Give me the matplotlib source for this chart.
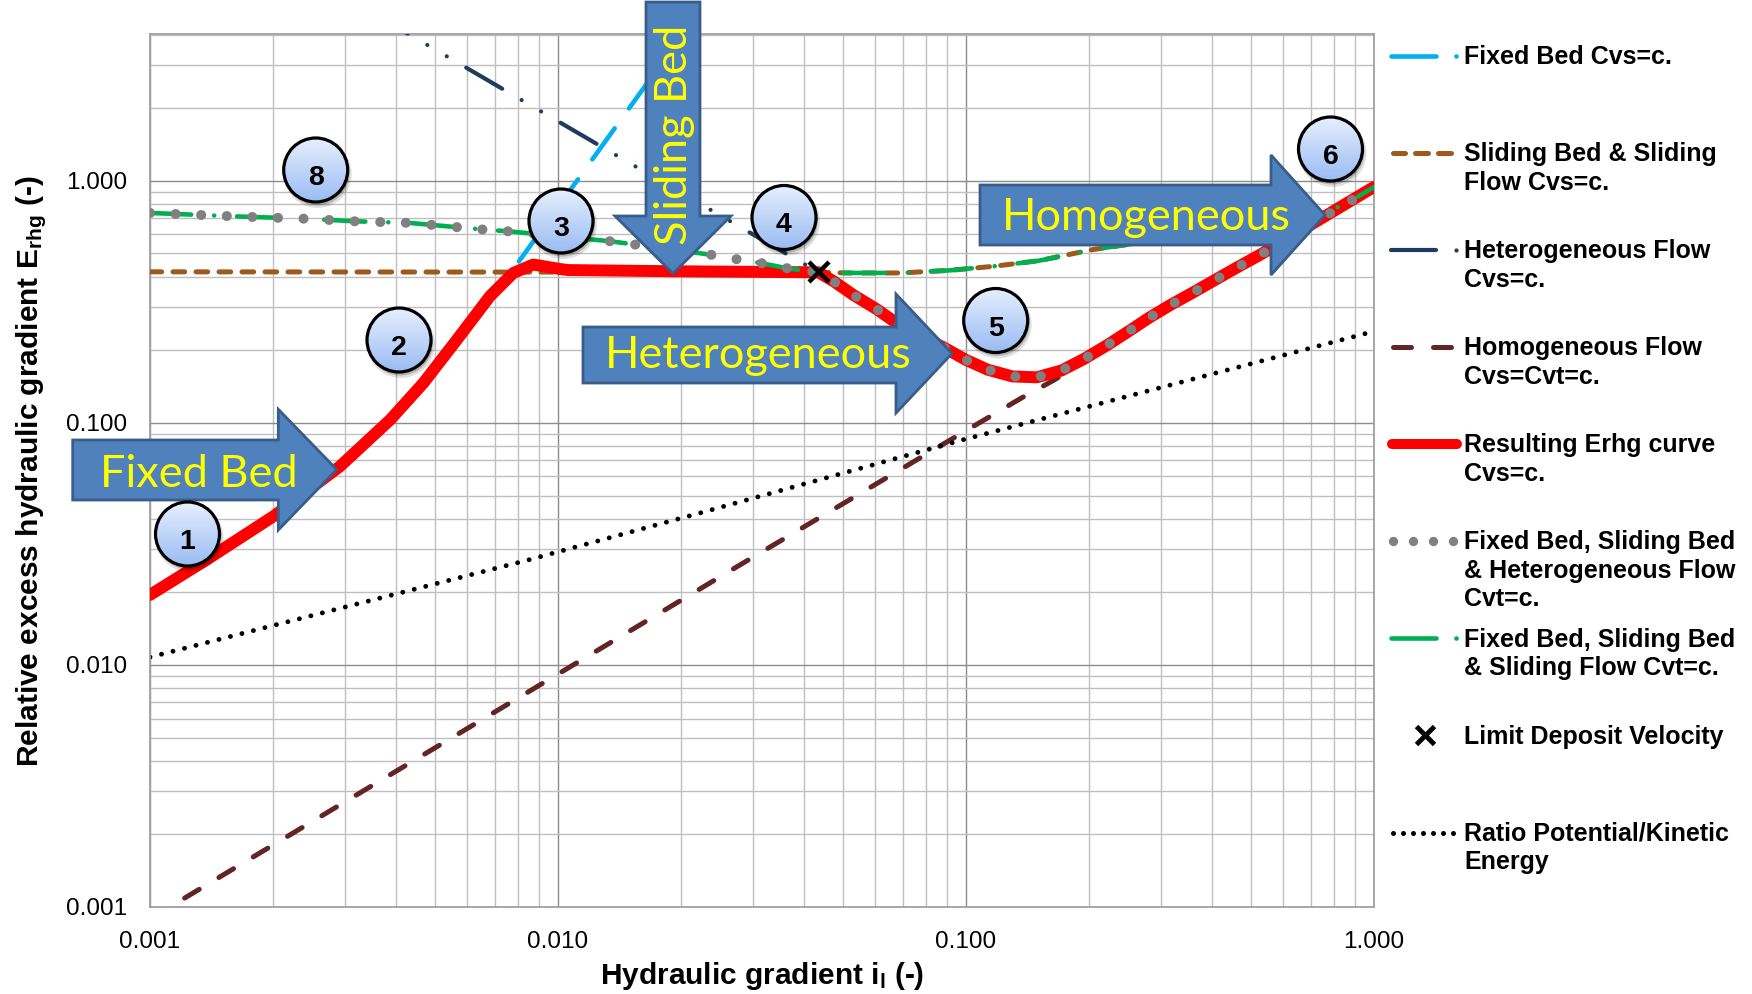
import matplotlib
matplotlib.use('Agg')
import matplotlib.pyplot as plt
import numpy as np
from matplotlib.patches import Polygon, Circle
from matplotlib.lines import Line2D
from matplotlib.ticker import FixedLocator, FuncFormatter, LogLocator, NullFormatter
from matplotlib.colors import LinearSegmentedColormap

W, H = 1752, 994
plt.rcParams['font.family'] = ['Liberation Sans', 'DejaVu Sans']
plt.rcParams['mathtext.fontset'] = 'custom'
plt.rcParams['mathtext.rm'] = 'Liberation Sans'
plt.rcParams['mathtext.bf'] = 'Liberation Sans:bold'
plt.rcParams['mathtext.it'] = 'Liberation Sans:italic'

# ---------------- data ----------------
# Resulting Erhg curve Cvs=c.
res_x = [0.001, 0.001377, 0.002004, 0.00292, 0.00388, 0.00468, 0.00565, 0.00681, 0.00777,
         0.0087, 0.0101, 0.0106, 0.02, 0.0435, 0.0474, 0.0531, 0.0603, 0.0667, 0.0902,
         0.0998, 0.113, 0.130, 0.149, 0.1715, 0.1945, 0.2207, 0.2503, 0.2804, 0.318,
         0.3606, 0.409, 0.464, 0.5265, 0.758, 0.86, 0.975, 1.0]
res_y = [0.01945, 0.0272, 0.041, 0.066, 0.1029, 0.146, 0.22, 0.333, 0.4155,
         0.45, 0.4315, 0.427, 0.422, 0.418, 0.3836, 0.336, 0.295, 0.262, 0.2003,
         0.182, 0.1656, 0.1553, 0.154, 0.1644, 0.1833, 0.208, 0.2384, 0.2708, 0.3074,
         0.3455, 0.39, 0.44, 0.4945, 0.712, 0.809, 0.918, 0.94]

# Fixed Bed Cvs=c.
fb_x = [0.001, 0.001377, 0.002004, 0.00292, 0.00388, 0.00468, 0.00565, 0.00681, 0.00792, 0.01633, 0.0215]
fb_y = [0.01945, 0.0272, 0.041, 0.066, 0.1029, 0.146, 0.22, 0.333, 0.45, 2.45, 4.8]

# Sliding Bed & Sliding Flow Cvs=c.
sb_x = [0.001, 0.0435, 0.0512, 0.0692, 0.0914, 0.1175, 0.1512, 0.2047, 0.25, 0.4, 0.758, 0.86, 1.0]
sb_y = [0.42, 0.418, 0.4155, 0.4155, 0.426, 0.443, 0.467, 0.519, 0.545, 0.62, 0.734, 0.809, 0.94]

# Heterogeneous Flow Cvs=c.
het_x = [0.0035, 0.00426, 0.01366, 0.0435, 0.0474, 0.0531, 0.0603]
het_y = [4.95, 4.07, 1.293, 0.418, 0.3836, 0.336, 0.295]

# Homogeneous Flow Cvs=Cvt=c.
hom_x = [0.001, 0.001173, 0.0275, 0.0847, 0.1367, 0.165, 0.2503, 0.5265, 1.0]
hom_y = [0.0009, 0.00105, 0.02547, 0.0786, 0.1265, 0.1506, 0.2384, 0.4945, 0.94]

# Fixed Bed, Sliding Bed & ... Cvt=c. (common part up to the LDV)
cvt_x = [0.001, 0.0016, 0.00245, 0.00318, 0.00431, 0.00662, 0.0076, 0.0135, 0.0237,
         0.0273, 0.0313, 0.0363, 0.0435]
cvt_y = [0.735, 0.712, 0.695, 0.679, 0.669, 0.627, 0.617, 0.561, 0.494,
         0.474, 0.457, 0.435, 0.418]

# Limit Deposit Velocity
ldv_x = [0.0435]
ldv_y = [0.418]

# Ratio Potential/Kinetic Energy
pk_x = [0.001, 0.00852, 0.0223, 0.1, 1.0]
pk_y = [0.01076, 0.0272, 0.0424, 0.0857, 0.2385]

# branches after the LDV
i_ldv = res_x.index(0.0435)
gray_x = cvt_x + res_x[i_ldv + 1:]
gray_y = cvt_y + res_y[i_ldv + 1:]
j_ldv = sb_x.index(0.0435)
green_x = cvt_x + sb_x[j_ldv + 1:]
green_y = cvt_y + sb_y[j_ldv + 1:]

tick_vals = [0.001, 0.01, 0.1, 1.0]

legend_entries = [
    ["Fixed Bed Cvs=c."],
    ["Sliding Bed & Sliding", "Flow Cvs=c."],
    ["Heterogeneous Flow", "Cvs=c."],
    ["Homogeneous Flow", "Cvs=Cvt=c."],
    ["Resulting Erhg curve", "Cvs=c."],
    ["Fixed Bed, Sliding Bed", "& Heterogeneous Flow", "Cvt=c."],
    ["Fixed Bed, Sliding Bed", "& Sliding Flow Cvt=c."],
    ["Limit Deposit Velocity"],
    ["Ratio Potential/Kinetic", "Energy"],
]

C_BLUE = '#00B0F0'
C_BROWN = '#9E5A1C'
C_NAVY = '#1F3B5E'
C_HOM = '#632523'
C_RED = '#FF0000'
C_GRAY = '#808080'
C_GREEN = '#00B050'

# ---------------- figure ----------------
fig = plt.figure(figsize=(W / 100, H / 100), dpi=100)
fig.patch.set_facecolor('white')
ax = fig.add_axes([150 / W, 1 - 907 / H, (1374 - 150) / W, (907 - 33.5) / H])
ax.set_xscale('log')
ax.set_yscale('log')
ax.set_xlim(0.001, 1.0)
ax.set_ylim(0.001, 4.05)

for a in (ax.xaxis, ax.yaxis):
    a.set_major_locator(FixedLocator(tick_vals))
    a.set_minor_locator(LogLocator(base=10, subs=np.arange(2, 10)))
    a.set_major_formatter(FuncFormatter(lambda v, p: f'{v:.3f}'))
    a.set_minor_formatter(NullFormatter())
ax.grid(which='minor', color='#BFBFBF', lw=1.0)
ax.grid(which='major', color='#8C8C8C', lw=1.0)
ax.set_axisbelow(True)
ax.tick_params(which='both', length=0, labelsize=17.5, colors='black')
ax.tick_params(axis='x', pad=17.5)
ax.tick_params(axis='y', pad=16.5)
for s in ax.spines.values():
    s.set_color('#A0A0A0')
    s.set_linewidth(1.3)

ax.plot(hom_x, hom_y, color=C_HOM, lw=3.6, linestyle=(0, (3.4, 4.6)), dash_capstyle='round', zorder=2)
ax.plot(pk_x, pk_y, color='black', lw=3.5, linestyle=(0, (0.01, 2.43)), dash_capstyle='round', zorder=2)
ax.plot(sb_x, sb_y, color=C_BROWN, lw=3.6, linestyle=(0, (2.34, 2.26)), dash_capstyle='round', zorder=3)
ax.plot(fb_x, fb_y, color=C_BLUE, lw=3.3, linestyle=(0, (8.35, 5.35)), dash_capstyle='round', zorder=3)
ax.plot(het_x, het_y, color=C_NAVY, lw=3.0, linestyle=(0, (10, 5.4, 0.01, 5.4, 0.01, 5.4)),
        dash_capstyle='round', zorder=4)
ax.plot(res_x, res_y, color=C_RED, lw=8.6, solid_joinstyle='round', solid_capstyle='round', zorder=5)
ax.plot(green_x, green_y, color=C_GREEN, lw=3.3, linestyle=(0, (9, 5, 0.01, 5)), dash_capstyle='round', zorder=6)
ax.plot(gray_x, gray_y, color=C_GRAY, lw=7.2, linestyle=(0, (0.01, 2.55)), dash_capstyle='round', zorder=7)
ax.plot(ldv_x, ldv_y, linestyle='none', marker='x', ms=15, mew=3.2, color='black', zorder=8)

# ---------------- overlay in pixel coordinates ----------------
ov = fig.add_axes([0, 0, 1, 1])
ov.set_zorder(10)
ov.axis('off')

ARW_FACE = '#4F81BD'
ARW_EDGE = '#385D8A'
arrows = [
    [(72.7, 440), (278.3, 440), (278.3, 409.3), (336.7, 469.5), (278.3, 530), (278.3, 500), (72.7, 500)],
    [(583, 327), (896, 327), (896, 294), (952, 353.5), (896, 413), (896, 383), (583, 383)],
    [(980, 185), (1271, 185), (1271, 155), (1325, 215), (1271, 275), (1271, 245), (980, 245)],
    [(646, 2), (700, 2), (700, 216), (731, 216), (673, 273.5), (615, 216), (646, 216)],
]
for pts in arrows:
    ov.add_patch(Polygon(pts, closed=True, facecolor=ARW_FACE, edgecolor=ARW_EDGE, lw=2.0, zorder=1))

afont = dict(family=['Lato', 'DejaVu Sans'], fontsize=32.5, color='#FFFF00', zorder=2)
ov.text(199, 486.7, 'Fixed Bed', ha='center', va='baseline', **afont)
ov.text(758.5, 368.3, 'Heterogeneous', ha='center', va='baseline', **afont)
ov.text(1146.5, 230, 'Homogeneous', ha='center', va='baseline', **afont)
ov.text(686.7, 245, 'Sliding Bed', ha='left', va='baseline', rotation=90,
        rotation_mode='anchor', **afont)

# numbered circles
circles = [(187.5, 534, '1'), (399, 340, '2'), (561, 221, '3'), (784, 217.5, '4'),
           (995.7, 320.5, '5'), (1330.5, 149, '6'), (315.7, 170, '8')]
R = 32
cmap = LinearSegmentedColormap.from_list('cb', ['#E6EFFD', '#9ABCF3'])
grad = np.linspace(0, 1, 64).reshape(-1, 1)
for cx, cy, lab in circles:
    ov.add_patch(Circle((cx + 2, cy + 4), R + 2, facecolor='black', alpha=0.12, edgecolor='none', zorder=3))
    ov.add_patch(Circle((cx + 1.5, cy + 3), R + 0.5, facecolor='black', alpha=0.2, edgecolor='none', zorder=3))
    im = ov.imshow(grad, cmap=cmap, extent=(cx - R, cx + R, cy + R, cy - R), origin='upper',
                   aspect='auto', zorder=4, interpolation='bilinear')
    clip = Circle((cx, cy), R, transform=ov.transData)
    im.set_clip_path(clip)
    ov.add_patch(Circle((cx, cy), R, facecolor='none', edgecolor='black', lw=2.3, zorder=5))
    ov.text(cx, cy + 15, lab, ha='center', va='baseline', fontsize=20.5, fontweight='bold',
            color='black', zorder=6)

# legend (drawn manually, Excel-like spacing)
TX = 1464.3
base0, step, lsp = 64, 97.1, 28.4
for k, lines in enumerate(legend_entries):
    b = base0 + k * step
    for m, line in enumerate(lines):
        ov.text(TX, b + m * lsp, line, ha='left', va='baseline', fontsize=18, fontweight='bold',
                color='black')
    hy = b - 8.3
    if k == 0:
        ov.add_line(Line2D([1390.7, 1435.7], [hy, hy], color=C_BLUE, lw=3.3, solid_capstyle='round'))
        ov.plot([1456], [hy], 'o', ms=3.3, color=C_BLUE, mec='none')
    elif k == 1:
        for x0, x1 in [(1392.7, 1405.3), (1415.3, 1428), (1438, 1450.7)]:
            ov.add_line(Line2D([x0, x1], [hy, hy], color=C_BROWN, lw=3.6, solid_capstyle='round'))
    elif k == 2:
        ov.add_line(Line2D([1390.7, 1435.7], [hy, hy], color=C_NAVY, lw=3.0, solid_capstyle='round'))
        ov.plot([1456], [hy], 'o', ms=3.0, color=C_NAVY, mec='none')
    elif k == 3:
        for x0, x1 in [(1392.7, 1410.7), (1433, 1451.3)]:
            ov.add_line(Line2D([x0, x1], [hy, hy], color=C_HOM, lw=3.6, solid_capstyle='round'))
    elif k == 4:
        ov.add_line(Line2D([1392, 1457], [hy, hy], color=C_RED, lw=7.2, solid_capstyle='round'))
    elif k == 5:
        ov.plot([1392.7, 1412.7, 1432.7, 1452.7], [hy] * 4, 'o', ms=6.7, color=C_GRAY, mec='none')
    elif k == 6:
        ov.add_line(Line2D([1390.7, 1435.7], [hy, hy], color=C_GREEN, lw=3.3, solid_capstyle='round'))
        ov.plot([1456], [hy], 'o', ms=3.3, color=C_GREEN, mec='none')
    elif k == 7:
        ov.plot([1425], [hy], 'x', ms=13, mew=3.5, color='black')
    elif k == 8:
        ov.plot([1392.7 + 10 * i for i in range(7)], [hy] * 7, 'o', ms=3.6, color='black', mec='none')

# axis titles
ov.text(762, 984, 'Hydraulic gradient i$_\\mathbf{l}$ (-)', ha='center', va='baseline',
        fontsize=21.5, fontweight='bold', color='black')
ov.text(38, 471, 'Relative excess hydraulic gradient E$_\\mathbf{rhg}$ (-)', ha='center', va='baseline',
        rotation=90, rotation_mode='anchor', fontsize=21.5, fontweight='bold', color='black')

ov.set_xlim(0, W)
ov.set_ylim(H, 0)

fig.savefig('out.png', dpi=100)
